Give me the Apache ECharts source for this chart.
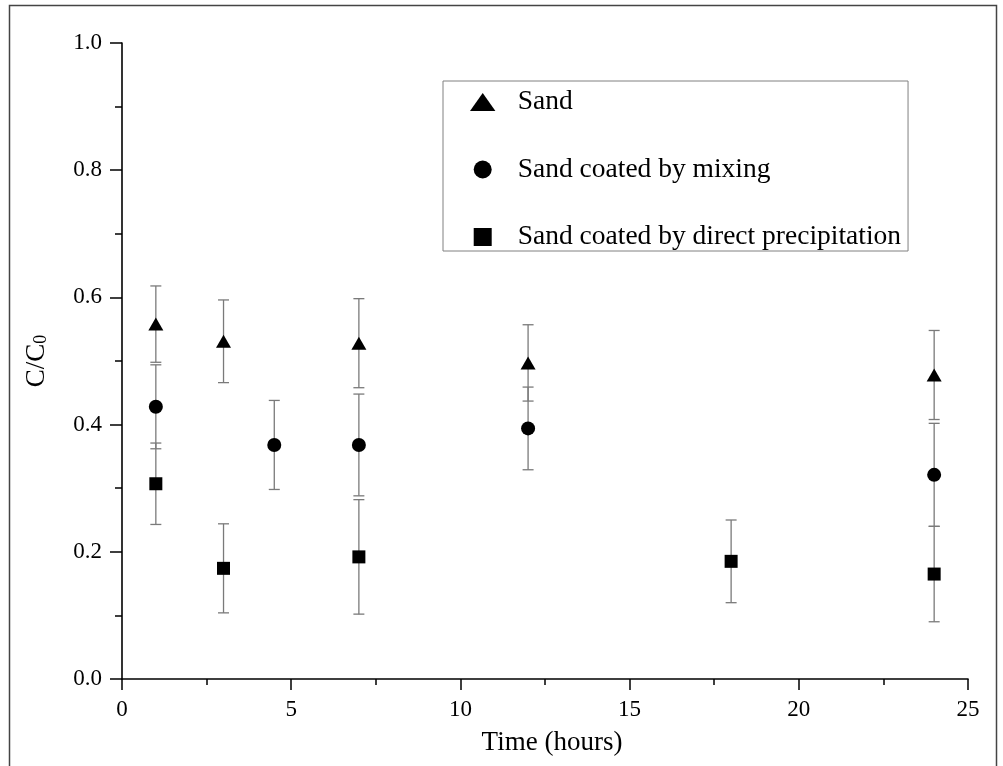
<!DOCTYPE html>
<html>
<head>
<meta charset="utf-8">
<script src="https://cdn.jsdelivr.net/npm/echarts@6/dist/echarts.min.js"></script>
<style>
  html, body { margin: 0; padding: 0; background: #fff; }
  #chart { width: 1003px; height: 766px; }
</style>
</head>
<body>
<div id="chart"></div>
<script>
// Time axis and tick labels
const xTicks = [0, 5, 10, 15, 20, 25];
const yTicks = [0.0, 0.2, 0.4, 0.6, 0.8, 1.0];

// Sand
const sandTime = [1, 3, 7, 12, 24];
const sandMean = [0.558, 0.531, 0.528, 0.497, 0.478];
const sandErr  = [0.060, 0.065, 0.070, 0.060, 0.070];

// Sand coated by mixing
const mixTime = [1, 4.5, 7, 12, 24];
const mixMean = [0.428, 0.368, 0.368, 0.394, 0.321];
const mixErr  = [0.066, 0.070, 0.080, 0.065, 0.081];

// Sand coated by direct precipitation
const precTime = [1, 3, 7, 18, 24];
const precMean = [0.307, 0.174, 0.192, 0.185, 0.165];
const precErr  = [0.064, 0.070, 0.090, 0.065, 0.075];

const seriesNames = ['Sand', 'Sand coated by mixing', 'Sand coated by direct precipitation'];

const FONT = '"Liberation Serif", "Times New Roman", serif';

function points(t, m) { return t.map((x, i) => [x, m[i]]); }
function bars(t, m, e) { return t.map((x, i) => [x, m[i] - e[i], m[i] + e[i]]); }

// Vertical error bar with short caps, placed through the axis scales
function errorBarItem(params, api) {
  const x = api.value(0);
  const lo = api.coord([x, api.value(1)]);
  const hi = api.coord([x, api.value(2)]);
  const w = 5.5;
  const style = { stroke: '#7a7a7a', lineWidth: 1.3, fill: null };
  return {
    type: 'group',
    children: [
      { type: 'line', shape: { x1: lo[0], y1: lo[1], x2: hi[0], y2: hi[1] }, style },
      { type: 'line', shape: { x1: lo[0] - w, y1: lo[1], x2: lo[0] + w, y2: lo[1] }, style },
      { type: 'line', shape: { x1: hi[0] - w, y1: hi[1], x2: hi[0] + w, y2: hi[1] }, style }
    ]
  };
}

function errorSeries(t, m, e) {
  return {
    type: 'custom',
    renderItem: errorBarItem,
    data: bars(t, m, e),
    encode: { x: 0, y: [1, 2] },
    silent: true,
    z: 1
  };
}

const markerStyle = { color: '#000', opacity: 1 };

const chart = echarts.init(document.getElementById('chart'), null, { renderer: 'canvas' });

chart.setOption({
  animation: false,
  backgroundColor: '#fff',
  textStyle: { fontFamily: FONT, color: '#000' },
  graphic: [{
    type: 'rect',
    shape: { x: 9.5, y: 5.5, width: 987, height: 820 },
    style: { fill: null, stroke: '#444', lineWidth: 1.5 },
    silent: true
  }],
  grid: { left: 122, right: 35, top: 43, bottom: 87, containLabel: false },
  legend: {
    orient: 'vertical',
    left: 443,
    top: 81,
    padding: [7, 7, 0, 27],
    itemWidth: 60,
    itemHeight: 18,
    itemGap: 39.5,
    symbolKeepAspect: true,
    borderColor: '#808080',
    borderWidth: 1,
    backgroundColor: '#fff',
    itemStyle: { color: '#000', opacity: 1 },
    textStyle: { fontFamily: FONT, fontSize: 27.5, lineHeight: 28, color: '#000' },
    data: [
      { name: seriesNames[0], icon: 'path://M0,17L12,0L24,17Z' },
      { name: seriesNames[1], icon: 'circle' },
      { name: seriesNames[2], icon: 'path://M0,0L17,0L17,17L0,17Z' }
    ]
  },
  xAxis: {
    type: 'value',
    min: xTicks[0],
    max: xTicks[xTicks.length - 1],
    interval: 5,
    name: 'Time (hours)',
    nameLocation: 'middle',
    nameGap: 50,
    nameTextStyle: { fontFamily: FONT, fontSize: 27, color: '#000', padding: [0, 0, 0, 14] },
    axisLine: { show: true, onZero: false, lineStyle: { color: '#000', width: 1.6 } },
    axisTick: { show: true, inside: false, length: 11, lineStyle: { color: '#000', width: 1.5 } },
    minorTick: { show: true, splitNumber: 2, length: 6, lineStyle: { color: '#000', width: 1.5 } },
    axisLabel: { fontFamily: FONT, fontSize: 23, color: '#000', margin: 19 },
    splitLine: { show: false }
  },
  yAxis: {
    type: 'value',
    min: yTicks[0],
    max: yTicks[yTicks.length - 1],
    interval: 0.2,
    name: '{a|C/C}{b|0}',
    nameLocation: 'middle',
    nameGap: 54,
    nameRotate: 90,
    nameTextStyle: {
      fontFamily: FONT,
      color: '#000',
      rich: {
        a: { fontFamily: FONT, fontSize: 27, lineHeight: 27, verticalAlign: 'top', padding: [0, 0, 12, 0] },
        b: { fontFamily: FONT, fontSize: 18, lineHeight: 18, verticalAlign: 'bottom' }
      }
    },
    axisLine: { show: true, onZero: false, lineStyle: { color: '#000', width: 1.6 } },
    axisTick: { show: true, inside: false, length: 12, lineStyle: { color: '#000', width: 1.5 } },
    minorTick: { show: true, splitNumber: 2, length: 7, lineStyle: { color: '#000', width: 1.5 } },
    axisLabel: { fontFamily: FONT, fontSize: 23, color: '#000', margin: 20, formatter: v => v.toFixed(1) },
    splitLine: { show: false }
  },
  series: [
    errorSeries(sandTime, sandMean, sandErr),
    errorSeries(mixTime, mixMean, mixErr),
    errorSeries(precTime, precMean, precErr),
    {
      name: seriesNames[0], type: 'scatter', symbol: 'triangle', symbolSize: [15, 13],
      itemStyle: markerStyle, data: points(sandTime, sandMean), z: 3
    },
    {
      name: seriesNames[1], type: 'scatter', symbol: 'circle', symbolSize: 14,
      itemStyle: markerStyle, data: points(mixTime, mixMean), z: 3
    },
    {
      name: seriesNames[2], type: 'scatter', symbol: 'rect', symbolSize: 13,
      itemStyle: markerStyle, data: points(precTime, precMean), z: 3
    }
  ]
});
</script>
</body>
</html>
